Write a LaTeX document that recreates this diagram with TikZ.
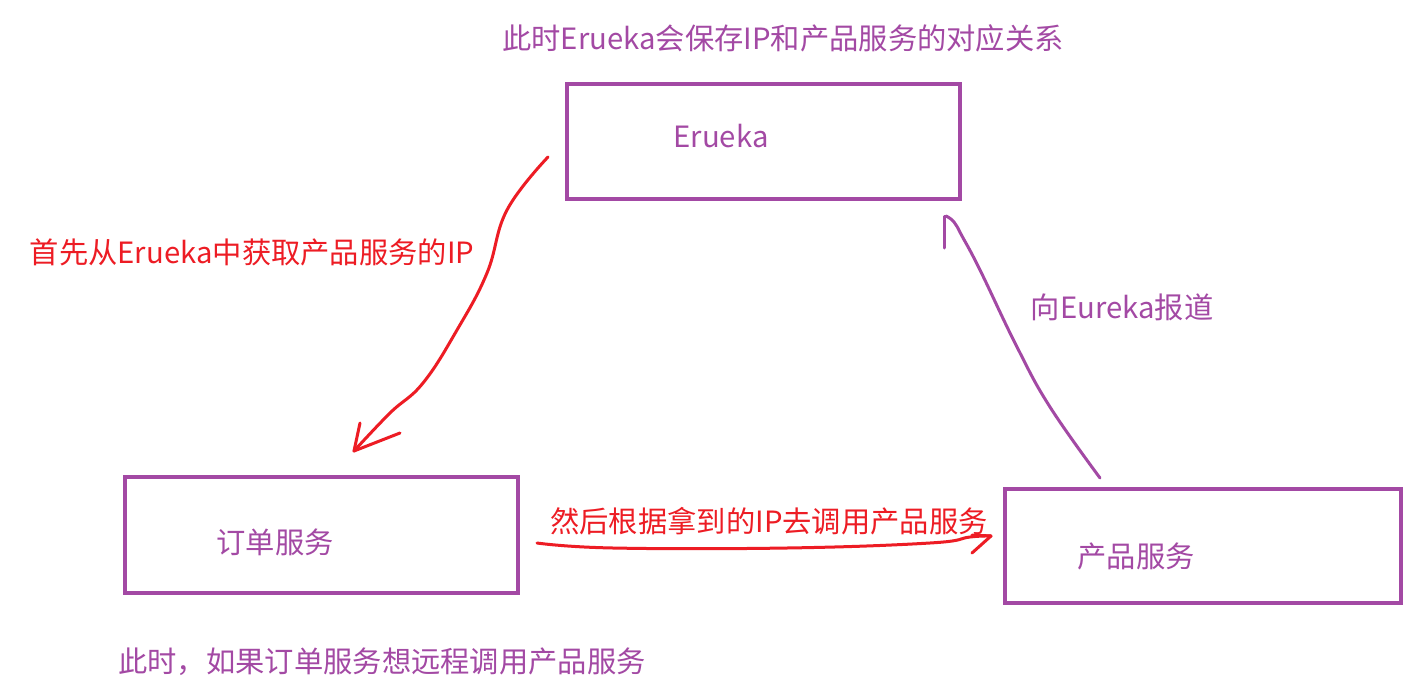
\documentclass[tikz,border=0pt]{standalone}
\usepackage{fontspec}
\setmainfont{Noto Sans CJK SC}
\definecolor{pp}{HTML}{A349A4}
\definecolor{rd}{HTML}{ED1C24}
\begin{document}
\begin{tikzpicture}[x=1bp,y=-1bp,
  box/.style={draw=pp,line width=4bp,inner sep=0pt,minimum width=#1},
  lbl/.style={inner sep=0pt,font=\fontsize{29.4}{34}\selectfont},
  plbl/.style={lbl,text=pp},
  rlbl/.style={lbl,text=rd},
  rline/.style={draw=rd,line width=3bp,line cap=round,line join=round},
  pline/.style={draw=pp,line width=3bp,line cap=round,line join=round}]
\useasboundingbox[fill=white] (0,0) rectangle (1423,693);
% boxes
\node[box=393bp,minimum height=115bp] (eur) at (763.5,141.5) {};
\node[box=393bp,minimum height=116bp] (ord) at (321.5,535) {};
\node[box=396bp,minimum height=114bp] (prd) at (1203,546) {};
% labels
\node[plbl] (teur) at (721,136) {Erueka};
\node[plbl] (tord) at (275,542) {订单服务};
\node[plbl] (tprd) at (1136,556) {产品服务};
\node[plbl] (ttop) at (783,38) {此时Erueka会保存IP和产品服务的对应关系};
\node[rlbl] (tget) at (252,252) {首先从Erueka中获取产品服务的IP};
\node[plbl] (treg) at (1122,307) {向Eureka报道};
\node[rlbl] (tcall) at (769,521) {然后根据拿到的IP去调用产品服务};
\node[plbl] (tbot) at (382,662) {此时，如果订单服务想远程调用产品服务};
% connector ends
\coordinate (e1) at (548,157);
\coordinate (o1) at (354,451);
\coordinate (p1) at (1100,478);
\coordinate (e2) at (946,216);
\coordinate (o2) at (537,543);
\coordinate (p2) at (991,536);
% red curve from Erueka to order service
\draw[rline] plot[smooth,tension=0.7] coordinates {(e1) (507,210) (487,273) (457,330) (423,383) (390,413) (o1)};
\draw[rline] (o1) -- ++(6,-28);
\draw[rline] (o1) -- ++(46,-18);
% purple line from product service to Erueka
\draw[pline] plot[smooth,tension=0.7] coordinates {(p1) (1050,407) (1017,347) (980,270) (962,236) (954,222) (e2)};
\draw[pline] (e2) -- ++(-2,0) -- ++(0,32);
% red arrow from order to product
\draw[rline] plot[smooth,tension=0.7] coordinates {(o2) (613,548) (787,548) (930,543) (970,537) (p2)};
\draw[rline] (p2) -- ++(-19,-1);
\draw[rline] (p2) -- ++(-19,17);
\end{tikzpicture}
\end{document}
